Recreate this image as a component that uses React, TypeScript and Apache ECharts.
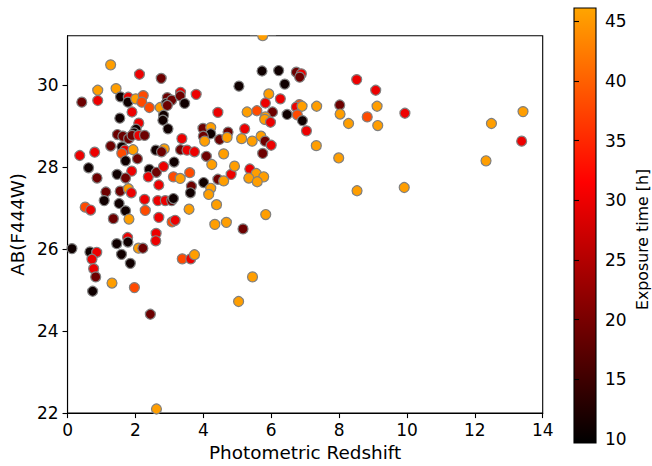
import React, { useEffect, useRef } from "react";
import * as echarts from "echarts";

// Photometric redshift, AB(F444W) magnitude, exposure time [h]
const redshift = [
  1.27, 2.12, 2.76, 0.89, 1.43, 0.42, 0.89, 1.56, 1.79, 1.78, 2.01, 2.23, 2.19, 2.41, 2.73, 2.94, 2.91, 3.07, 3.33, 3.32,
  3.45, 3.79, 2.94, 2.83, 2.81, 2.96, 1.90, 1.54, 2.10, 2.02, 1.96, 1.47, 1.63, 1.80, 1.90, 2.10, 2.27, 1.27, 1.60, 1.69,
  1.93, 1.60, 1.71, 2.06, 2.60, 2.85, 2.77, 3.14, 3.33, 3.52, 3.74, 3.37, 4.09, 4.25, 4.60, 4.43, 3.99, 4.22, 4.22, 4.00,
  4.04, 4.48, 4.73, 4.70, 0.36, 0.80, 0.62, 0.87, 1.46, 1.89, 1.71, 2.41, 2.38, 2.62, 2.83, 3.12, 3.32, 3.60, 3.65, 3.62,
  4.01, 4.43, 4.60, 4.82, 4.22, 4.16, 2.69, 1.13, 1.55, 1.79, 1.88, 1.08, 1.52, 2.27, 2.66, 2.88, 3.07, 3.12, 0.52, 0.68,
  1.71, 2.29, 3.58, 4.39, 1.35, 1.81, 2.69, 3.08, 3.17, 4.34, 4.68, 0.13, 0.66, 0.86, 0.72, 0.77, 0.83, 0.74, 1.45, 1.77,
  1.78, 1.59, 1.85, 1.31, 1.97, 2.09, 2.22, 2.61, 2.60, 2.44, 2.62, 3.38, 3.63, 3.74, 5.75, 5.73, 6.22, 6.74, 6.89, 6.84,
  5.05, 6.40, 8.52, 9.08, 5.93, 5.83, 6.27, 5.29, 5.58, 6.04, 5.83, 5.81, 5.98, 6.47, 6.83, 6.74, 6.91, 6.77, 6.92, 7.04,
  7.34, 8.02, 8.03, 8.28, 8.83, 9.12, 9.14, 7.33, 7.99, 8.53, 5.22, 5.13, 5.44, 5.70, 5.82, 6.00, 5.75, 4.92, 5.37, 5.56,
  5.78, 5.34, 5.59, 5.84, 5.17, 5.45, 5.04, 9.94, 9.92, 12.49, 13.42, 13.38, 12.33,
];
const magAB = [
  30.49, 30.26, 30.16, 29.87, 29.91, 29.58, 29.62, 29.71, 29.70, 29.58, 29.66, 29.74, 29.58, 29.45, 29.45, 29.69, 29.55, 29.63, 29.82, 29.73,
  29.55, 29.77, 29.50, 29.26, 29.14, 28.93, 29.34, 29.19, 29.07, 28.92, 28.83, 28.79, 28.75, 28.69, 28.77, 28.77, 28.77, 28.51, 28.49, 28.41,
  28.42, 28.33, 28.15, 28.20, 28.41, 28.44, 28.37, 28.12, 28.42, 28.41, 28.37, 28.69, 28.26, 28.06, 28.32, 29.33, 28.94, 28.96, 28.81, 28.75,
  28.63, 28.67, 28.85, 28.72, 28.28, 28.36, 27.98, 27.73, 27.82, 27.90, 27.73, 27.94, 27.76, 27.87, 28.01, 27.76, 27.72, 27.86, 27.53, 27.37,
  27.62, 27.70, 27.66, 27.82, 27.48, 27.33, 27.56, 27.39, 27.41, 27.47, 27.37, 27.18, 27.11, 27.21, 27.18, 27.18, 27.18, 27.23, 27.02, 26.95,
  26.93, 26.94, 26.97, 27.08, 26.74, 26.73, 26.77, 26.66, 26.70, 26.60, 26.65, 26.01, 25.93, 25.92, 25.75, 25.52, 25.32, 24.97, 26.13, 26.28,
  26.17, 25.87, 25.65, 25.17, 25.06, 26.02, 26.02, 26.38, 26.20, 24.41, 22.10, 25.76, 25.76, 25.86, 31.2, 30.34, 30.35, 30.31, 30.27, 30.19,
  29.97, 30.02, 30.13, 29.87, 29.78, 29.56, 29.66, 29.34, 29.37, 29.34, 29.22, 29.16, 29.09, 29.28, 29.52, 29.46, 29.48, 29.27, 29.13, 28.88,
  29.48, 29.51, 29.29, 29.06, 29.22, 29.48, 29.01, 28.52, 28.22, 27.42, 28.93, 28.69, 28.63, 28.75, 28.63, 28.53, 28.33, 28.02, 27.95, 27.84,
  27.76, 27.73, 27.64, 26.84, 26.49, 25.32, 24.72, 29.31, 27.50, 29.06, 29.35, 28.63, 28.15,
];
const exposureHours = [
  45.5, 30, 19, 45.5, 45.5, 19, 30, 11, 30, 11, 45.5, 38, 38, 38, 45.5, 19, 11, 19, 30, 19,
  11, 30, 19, 11, 11, 11, 30, 11, 30, 11, 11, 19, 19, 19, 19, 30, 19, 19, 11, 30,
  45.5, 38, 11, 19, 11, 45.5, 19, 11, 19, 30, 30, 30, 19, 45.5, 45.5, 30, 19, 45.5, 11, 19,
  45.5, 19, 19, 45.5, 30, 30, 11, 19, 11, 30, 19, 11, 30, 19, 30, 38, 45.5, 38, 19, 11,
  11, 19, 45.5, 30, 45.5, 45.5, 30, 19, 19, 45.5, 30, 11, 11, 30, 30, 30, 19, 11, 38, 30,
  11, 38, 45.5, 45.5, 19, 45.5, 30, 38, 30, 45.5, 45.5, 11, 11, 30, 30, 30, 19, 11, 11, 30,
  11, 11, 11, 45.5, 38, 45.5, 19, 30, 30, 19, 45.5, 38, 30, 45.5, 45.5, 11, 11, 19, 30, 19,
  11, 11, 30, 30, 45.5, 30, 30, 45.5, 38, 19, 45.5, 45.5, 30, 11, 38, 30, 45.5, 38, 11, 30,
  45.5, 19, 45.5, 45.5, 38, 45.5, 45.5, 45.5, 45.5, 45.5, 30, 45.5, 45.5, 45.5, 19, 30, 19, 45.5, 30, 45.5,
  45.5, 45.5, 45.5, 45.5, 19, 45.5, 45.5, 30, 45.5, 45.5, 45.5, 30, 45.5,
];

const xTicks = [0, 2, 4, 6, 8, 10, 12, 14];
const yTicks = [22, 24, 26, 28, 30];
const cbTicks = [10, 15, 20, 25, 30, 35, 40, 45];
const cbMin = 9.67;
const cbMax = 46.1;
const cmapColors = ["#000000", "#550000", "#aa0000", "#ff0000", "#ff5300", "#ffa500"];

const FONT = "DejaVu Sans";

export default function App() {
  const ref = useRef<HTMLDivElement>(null);
  useEffect(() => {
    if (!ref.current) return;
    const chart = echarts.init(ref.current, undefined, { renderer: "svg" });
    const data = redshift.map((x, i) => [x, magAB[i], exposureHours[i]]);
    const axisCommon = {
      axisLine: { show: true, onZero: false, lineStyle: { color: "#000", width: 1.1 } },
      axisTick: { show: true, inside: false, length: 5, lineStyle: { color: "#000", width: 1.1 } },
      splitLine: { show: false },
    };
    chart.setOption({
      animation: false,
      backgroundColor: "#fff",
      grid: [
        { left: 66.7, top: 35.7, width: 476, height: 381.6, show: true, borderColor: "#000", borderWidth: 1.1, backgroundColor: "transparent" },
        {
          left: 574, top: 8, width: 22, height: 435, show: true, borderColor: "#000", borderWidth: 1.1,
          backgroundColor: new echarts.graphic.LinearGradient(0, 1, 0, 0,
            cmapColors.map((c, i) => ({ offset: i / (cmapColors.length - 1), color: c }))),
        },
      ],
      xAxis: [
        {
          ...axisCommon, gridIndex: 0, type: "value", min: 0, max: 14, interval: 2,
          axisTick: { ...axisCommon.axisTick, customValues: xTicks },
          axisLabel: { customValues: xTicks, color: "#000", fontSize: 17, fontFamily: FONT, margin: 8 },
          name: "Photometric Redshift", nameLocation: "middle", nameGap: 29,
          nameTextStyle: { color: "#000", fontSize: 18.4, fontFamily: FONT },
        },
        { gridIndex: 1, type: "value", min: 0, max: 1, show: false },
      ],
      yAxis: [
        {
          ...axisCommon, gridIndex: 0, type: "value", min: 22, max: 31.2, interval: 2,
          axisTick: { ...axisCommon.axisTick, customValues: yTicks },
          axisLabel: { customValues: yTicks, color: "#000", fontSize: 17, fontFamily: FONT, margin: 9 },
          name: "AB(F444W)", nameLocation: "middle", nameGap: 33, nameRotate: 90,
          nameTextStyle: { color: "#000", fontSize: 18.3, fontFamily: FONT },
        },
        {
          ...axisCommon, gridIndex: 1, type: "value", position: "right", min: cbMin, max: cbMax,
          axisLine: { show: false },
          axisTick: { ...axisCommon.axisTick, customValues: cbTicks },
          axisLabel: { customValues: cbTicks, color: "#000", fontSize: 17, fontFamily: FONT, margin: 9 },
          name: "Exposure time [h]", nameLocation: "middle", nameGap: 38, nameRotate: 90,
          nameTextStyle: { color: "#000", fontSize: 15.8, fontFamily: FONT, padding: [0, 28, 0, 0] },
        },
      ],
      visualMap: {
        show: false, type: "continuous", dimension: 2, seriesIndex: 0,
        min: cbMin, max: cbMax, inRange: { color: cmapColors },
      },
      graphic: [
        { type: "rect", left: 250, top: 26, z: 10, shape: { width: 26, height: 9.2 }, style: { fill: "#fff" } },
      ],
      series: [
        {
          type: "scatter", xAxisIndex: 0, yAxisIndex: 0, data,
          symbolSize: 10,
          itemStyle: { borderColor: "#808080", borderWidth: 1.2, opacity: 1 },
        },
      ],
    });
    return () => chart.dispose();
  }, []);
  return <div ref={ref} style={{ width: 652, height: 466, position: "absolute", left: 0, top: 0 }} />;
}
